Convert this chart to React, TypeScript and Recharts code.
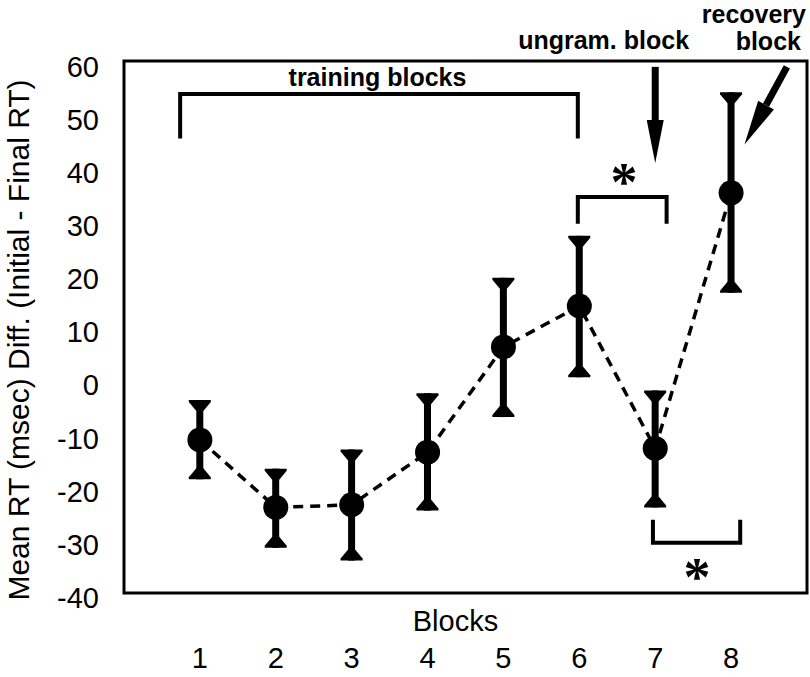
import React from 'react';
import {
  ComposedChart,
  Line,
  Bar,
  XAxis,
  YAxis,
  ReferenceArea,
  ReferenceDot,
  Label,
} from 'recharts';

// ---- data ----
const blocks = [1, 2, 3, 4, 5, 6, 7, 8];
const meanDiff = [-10.3, -23.0, -22.5, -12.6, 7.2, 14.9, -11.9, 36.2];
const errHigh = [-2.8, -15.7, -12.1, -1.5, 20.2, 28.1, -1.0, 55.1];
const errLow = [-17.7, -30.6, -33.0, -23.6, -6.0, 1.5, -23.0, 17.4];

const xTicks = [1, 2, 3, 4, 5, 6, 7, 8];
const yTicks = [-40, -30, -20, -10, 0, 10, 20, 30, 40, 50, 60];

// annotation geometry (data units)
const bracketTraining = [
  { x: 0.74, y: 46.4 },
  { x: 0.74, y: 54.8 },
  { x: 5.98, y: 54.8 },
  { x: 5.98, y: 46.4 },
];
const bracketUngram = [
  { x: 5.98, y: 30.4 },
  { x: 5.98, y: 35.4 },
  { x: 7.15, y: 35.4 },
  { x: 7.15, y: 30.4 },
];
const bracketRecovery = [
  { x: 6.97, y: -25.3 },
  { x: 6.97, y: -29.65 },
  { x: 8.12, y: -29.65 },
  { x: 8.12, y: -25.3 },
];
const arrowUngram = [
  { x: 7.0, y: 59.9 },
  { x: 7.0, y: 49.9 },
];
const arrowRecovery = [
  { x: 8.735, y: 59.9 },
  { x: 8.46, y: 52.7 },
];
const asterisks = [
  { x: 6.59, y: 39.6 },
  { x: 7.55, y: -34.7 },
];
const annotationTexts = [
  { x: 3.34, y: 56.3, text: 'training blocks' },
  { x: 6.32, y: 63.3, text: 'ungram. block' },
  { x: 8.3, y: 68.2, text: 'recovery' },
  { x: 8.49, y: 63.1, text: 'block' },
];

const data = blocks.map((b, i) => ({
  x: b,
  mean: meanDiff[i],
  range: [errLow[i], errHigh[i]],
}));

const SANS = '"Liberation Sans", Arial, Helvetica, sans-serif';
const SERIF = '"Liberation Serif", "Times New Roman", serif';

const ErrorBarShape = (props: any) => {
  const { x, y, width, height } = props;
  if (x == null || y == null) return <g />;
  const cx = x + width / 2;
  const top = Math.min(y, y + height);
  const bot = Math.max(y, y + height);
  const capW = 11;
  const stem = 3.5;
  const capH = 11;
  return (
    <g>
      <rect x={cx - stem} y={top} width={stem * 2} height={bot - top} fill="#000" />
      <polygon
        points={`${cx - capW},${top} ${cx + capW},${top} ${cx + capW},${top + 2} ${cx + stem},${top + capH} ${cx - stem},${top + capH} ${cx - capW},${top + 2}`}
        fill="#000"
      />
      <polygon
        points={`${cx - capW},${bot} ${cx + capW},${bot} ${cx + capW},${bot - 2} ${cx + stem},${bot - capH} ${cx - stem},${bot - capH} ${cx - capW},${bot - 2}`}
        fill="#000"
      />
    </g>
  );
};

const MeanDot = (props: any) => {
  const { cx, cy, key } = props;
  if (cx == null || cy == null) return <g key={key} />;
  return <circle key={key} cx={cx} cy={cy} r={12.5} fill="#000" />;
};

const makeArrowHead = (len: number, halfW: number) => (props: any) => {
  const { cx, cy, index, points, key } = props;
  if (index !== 1 || !points || points.length < 2) return <g key={key} />;
  const p0 = points[0];
  const dx = cx - p0.x;
  const dy = cy - p0.y;
  const l = Math.hypot(dx, dy) || 1;
  const ux = dx / l;
  const uy = dy / l;
  const tipX = cx + ux * len;
  const tipY = cy + uy * len;
  const lx = cx - uy * halfW;
  const ly = cy + ux * halfW;
  const rx = cx + uy * halfW;
  const ry = cy - ux * halfW;
  return <polygon key={key} points={`${lx},${ly} ${rx},${ry} ${tipX},${tipY}`} fill="#000" />;
};

const AsteriskShape = (props: any) => {
  const { cx, cy } = props;
  const fs = 54;
  return (
    <text x={cx} y={cy + fs * 0.47} textAnchor="middle" fontFamily={SERIF} fontWeight="bold" fontSize={fs} fill="#000">
      *
    </text>
  );
};

const makeTextShape = (text: string) => (props: any) => {
  const { cx, cy } = props;
  return (
    <text x={cx} y={cy} textAnchor="middle" fontFamily={SANS} fontWeight="bold" fontSize={25} fill="#000">
      {text}
    </text>
  );
};

export default function App() {
  return (
    <div style={{ position: 'absolute', left: 0, top: 0, background: '#fff' }}>
      <ComposedChart
        width={810}
        height={677}
        data={data}
        margin={{ top: 61, right: 3, bottom: 0, left: 0 }}
        style={{ fontFamily: SANS }}
      >
        <XAxis
          dataKey="x"
          type="number"
          domain={[0, 9]}
          ticks={xTicks}
          interval={0}
          axisLine={false}
          tickLine={false}
          tickSize={6}
          tickMargin={48}
          height={84}
          tick={{ fontSize: 29, fill: '#000', fontFamily: SANS }}
          allowDataOverflow
        >
          <Label
            value="Blocks"
            position="insideTop"
            offset={17}
            dx={-10}
            style={{ fontSize: 29, fill: '#000', fontFamily: SANS }}
          />
        </XAxis>
        <YAxis
          type="number"
          domain={[-39.1, 61.0]}
          ticks={yTicks}
          interval={0}
          axisLine={false}
          tickLine={false}
          tickSize={6}
          tickMargin={19}
          width={124}
          tick={{ fontSize: 29, fill: '#000', fontFamily: SANS }}
        >
          <Label
            value="Mean RT (msec) Diff. (Initial - Final RT)"
            position="center"
            angle={-90}
            dx={-44}
            dy={13}
            style={{ fontSize: 30, fill: '#000', fontFamily: SANS, textAnchor: 'middle' }}
          />
        </YAxis>

        <ReferenceArea x1={0} x2={9} y1={-39.1} y2={61.0} stroke="#000" strokeWidth={3} fill="none" fillOpacity={0} />

        <Bar dataKey="range" barSize={22} shape={ErrorBarShape} isAnimationActive={false} />
        <Line
          dataKey="mean"
          type="linear"
          stroke="#000"
          strokeWidth={3.5}
          strokeDasharray="10 7"
          dot={MeanDot}
          activeDot={false}
          isAnimationActive={false}
        />

        <Line data={bracketTraining} dataKey="y" type="linear" stroke="#000" strokeWidth={4} strokeLinejoin="miter" dot={false} activeDot={false} isAnimationActive={false} />
        <Line data={bracketUngram} dataKey="y" type="linear" stroke="#000" strokeWidth={4} strokeLinejoin="miter" dot={false} activeDot={false} isAnimationActive={false} />
        <Line data={bracketRecovery} dataKey="y" type="linear" stroke="#000" strokeWidth={4} strokeLinejoin="miter" dot={false} activeDot={false} isAnimationActive={false} />
        <Line data={arrowUngram} dataKey="y" type="linear" stroke="#000" strokeWidth={7} dot={makeArrowHead(43, 8.5)} activeDot={false} isAnimationActive={false} />
        <Line data={arrowRecovery} dataKey="y" type="linear" stroke="#000" strokeWidth={7} dot={makeArrowHead(45, 9)} activeDot={false} isAnimationActive={false} />

        {asterisks.map((a, i) => (
          <ReferenceDot key={`ast-${i}`} x={a.x} y={a.y} r={0} ifOverflow="visible" shape={AsteriskShape} />
        ))}
        {annotationTexts.map((t, i) => (
          <ReferenceDot key={`txt-${i}`} x={t.x} y={t.y} r={0} ifOverflow="visible" shape={makeTextShape(t.text)} />
        ))}
      </ComposedChart>
    </div>
  );
}
